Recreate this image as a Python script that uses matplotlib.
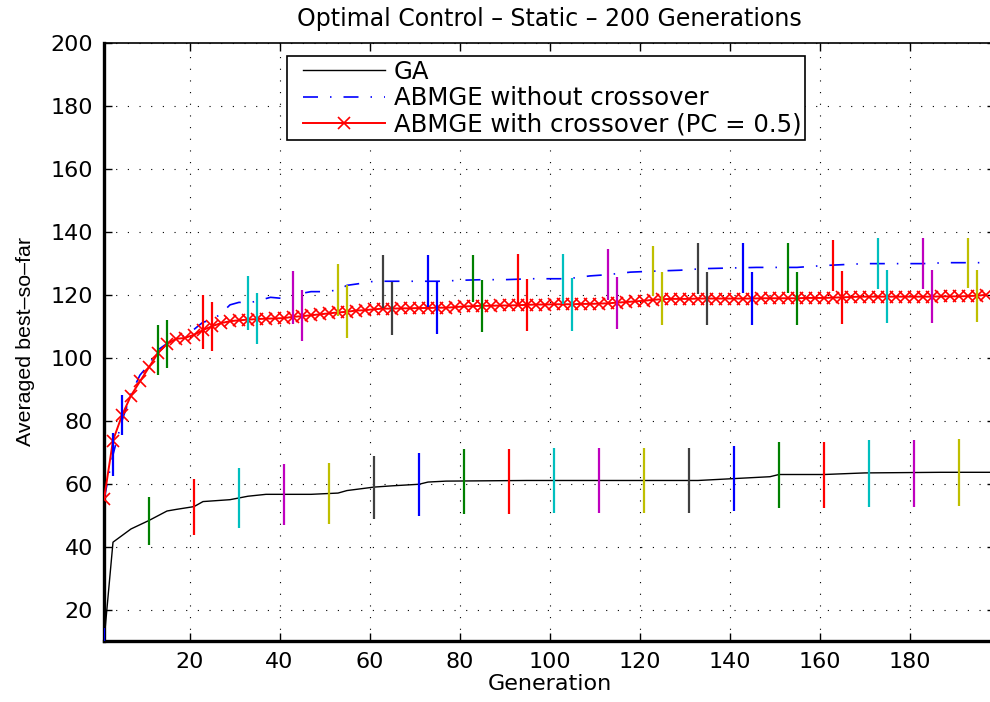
import numpy as np
import matplotlib
matplotlib.use("Agg")
import matplotlib.pyplot as plt
from matplotlib.lines import Line2D
from matplotlib.legend_handler import HandlerLine2D

plt.rcParams['font.family'] = ['DejaVu Sans']

# ---------------- data ----------------
title = "Optimal Control \u2013 Static \u2013 200 Generations"
xlabel = "Generation"
ylabel = "Averaged best\u2013so\u2013far"
labels = ["GA", "ABMGE without crossover", "ABMGE with crossover (PC = 0.5)"]

x_ticks = [20, 40, 60, 80, 100, 120, 140, 160, 180]
y_ticks = [20, 40, 60, 80, 100, 120, 140, 160, 180, 200]

# GA mean curve (breakpoints)
ga_gen = [1, 3, 7, 11, 15, 17, 21, 23, 29, 33, 37, 47, 53, 55, 61, 65, 71, 73,
          77, 95, 133, 141, 149, 151, 161, 170, 187, 199]
ga_val = [10, 41.4, 45.6, 48.3, 51.3, 51.8, 52.7, 54.3, 54.9, 56.0, 56.6, 56.6,
          57.0, 57.8, 58.9, 59.3, 59.8, 60.5, 60.8, 61.0, 61.0, 61.6, 62.2, 62.9,
          62.9, 63.4, 63.6, 63.6]

# ABMGE without crossover mean curve (breakpoints)
nox_gen = [1, 3, 5, 7, 9, 11, 13, 15, 17, 19, 21, 23, 25, 27, 29, 31, 33, 35, 38,
           41, 44, 47, 50, 53, 55, 58, 61, 70, 76, 80, 85, 90, 96, 104, 109, 113,
           118, 123, 129, 134, 146, 155, 161, 170, 183, 188, 199]
nox_val = [55, 69.2, 80.0, 88.5, 94.5, 97.8, 102.5, 104.5, 106.0, 107.2, 109.0,
           111.3, 112.0, 114.0, 116.8, 117.6, 117.4, 118.0, 119.2, 118.8, 120.2,
           121.0, 121.0, 121.5, 123.0, 123.6, 124.3, 124.3, 124.3, 124.6, 124.8,
           124.8, 125.1, 125.1, 126.0, 126.4, 127.2, 127.5, 127.8, 128.3, 128.7,
           128.7, 129.3, 129.9, 129.9, 130.2, 130.2]

# ABMGE with crossover mean curve (odd generations 1..197)
cx_gen = list(range(1, 198, 2))
cx_val = [55.0, 73.7, 81.7, 88.0, 92.5, 97.0, 101.5, 104.4, 106.0, 106.3,
          107.3, 108.8, 110.0, 111.0, 111.6, 111.9, 112.1, 112.3, 112.4, 112.5,
          112.6, 113.0, 113.2, 113.5, 113.8, 114.1, 114.4, 114.6, 115.0, 115.1,
          115.4, 115.6, 115.6, 115.7, 115.7, 115.8, 115.8, 115.9, 115.9, 116.1,
          116.3, 116.4, 116.5, 116.5, 116.6, 116.6, 116.7, 116.8, 116.9, 116.9,
          117.0, 117.0, 117.0, 117.1, 117.1, 117.2, 117.3, 117.5, 117.7, 117.9,
          118.1, 118.4, 118.6, 118.7, 118.7, 118.7, 118.8, 118.8, 118.8, 118.8,
          118.8, 118.8, 118.8, 118.9, 118.9, 118.9, 118.9, 118.9, 119.0, 119.0,
          119.0, 119.1, 119.2, 119.3, 119.4, 119.4, 119.4, 119.4, 119.4, 119.4,
          119.4, 119.4, 119.4, 119.5, 119.5, 119.5, 119.6, 119.7, 120.0]

# Error bars (every 10 generations)
ga_err_gen = list(range(1, 192, 10))
ga_err_mean = [10.0, 48.15, 52.6, 55.35, 56.5, 56.85, 58.8, 59.65, 60.7, 60.7,
               60.9, 60.9, 60.9, 60.9, 61.5, 62.8, 62.8, 63.3, 63.3, 63.6]
ga_err_std = [4.0, 7.55, 8.9, 9.55, 9.8, 9.75, 10.1, 10.05, 10.3, 10.3,
              10.3, 10.3, 10.3, 10.3, 10.3, 10.5, 10.5, 10.6, 10.6, 10.6]

nox_err_gen = list(range(3, 194, 10))
nox_err_mean = [69.2, 102.5, 111.3, 117.4, 119.2, 121.5, 124.25, 124.35, 125.25,
                125.15, 125.15, 126.4, 127.45, 128.35, 128.6, 128.6, 129.25,
                129.8, 129.85, 130.2]
nox_err_std = [6.9, 8.05, 8.55, 8.55, 8.35, 8.25, 8.35, 8.25, 7.55, 7.95, 7.95,
               8.1, 7.95, 7.95, 8.0, 8.0, 8.05, 8.1, 8.05, 8.0]

cx_err_gen = list(range(5, 196, 10))
cx_err_mean = [81.8, 104.35, 109.9, 112.4, 113.4, 114.7, 115.6, 115.9, 116.5,
               116.8, 117.0, 117.4, 118.8, 118.8, 118.8, 118.9, 119.1, 119.4,
               119.4, 119.6]
cx_err_std = [6.5, 7.75, 7.85, 8.05, 8.2, 8.3, 8.5, 8.45, 8.3, 8.35, 8.45, 8.35,
              8.5, 8.5, 8.5, 8.4, 8.4, 8.4, 8.4, 8.4]

# MATLAB classic colour order for the error bars
bar_colors = [(0, 0, 1), (0, 0.5, 0), (1, 0, 0), (0, 0.75, 0.75),
              (0.75, 0, 0.75), (0.75, 0.75, 0), (0.25, 0.25, 0.25)]

# ---------------- figure ----------------
fig = plt.figure(figsize=(9.9, 7.02), dpi=100)
ax = fig.add_axes([104 / 990, 61 / 702, 891 / 990, 598 / 702])

ax.plot(ga_gen, ga_val, color='black', lw=1.0, label=labels[0], zorder=3)
ax.plot(nox_gen, nox_val, color=(0, 0, 1), lw=1.2, dashes=(9, 7.2, 0.9, 7.2),
        label=labels[1], zorder=3)
ax.plot(cx_gen, cx_val, color=(1, 0, 0), lw=1.4, marker='x', ms=8, mew=1.2,
        label=labels[2], zorder=4)

for gens, means, stds in [(ga_err_gen, ga_err_mean, ga_err_std),
                          (nox_err_gen, nox_err_mean, nox_err_std),
                          (cx_err_gen, cx_err_mean, cx_err_std)]:
    for i, (g, m, s) in enumerate(zip(gens, means, stds)):
        ax.errorbar([g], [m], yerr=[s], fmt='none',
                    ecolor=bar_colors[i % len(bar_colors)], elinewidth=1.6,
                    capsize=0, zorder=5)

ax.set_xlim(1, 199)
ax.set_ylim(10, 200)
ax.set_xticks(x_ticks)
ax.set_yticks(y_ticks)
ax.tick_params(direction='in', length=6, width=1, top=True, right=True,
               labelsize=16, pad=8, colors='black')
ax.grid(True, color='black', linestyle=(0, (1, 9.5)), linewidth=0.8)
for side in ['left', 'bottom']:
    ax.spines[side].set_linewidth(2.4)
for side in ['top', 'right']:
    ax.spines[side].set_linewidth(1.2)

ax.set_title(title, fontsize=17, pad=12)
ax.set_xlabel(xlabel, fontsize=16, labelpad=1)
ax.set_ylabel(ylabel, fontsize=15.4, labelpad=11,
              family=['Liberation Sans', 'DejaVu Sans'])

fs_leg = 17.6
leg = ax.legend(loc='upper left', bbox_to_anchor=(287 / 990, 1 - 56 / 702),
                bbox_transform=fig.transFigure, fontsize=fs_leg, numpoints=1,
                handlelength=3.85, handletextpad=0.38, labelspacing=0.1,
                borderpad=0.15, borderaxespad=0, fancybox=False, framealpha=1,
                handler_map={Line2D: HandlerLine2D(numpoints=1, xpad=0.51)})
leg.get_frame().set_edgecolor('black')
leg.get_frame().set_linewidth(1.2)

fig.savefig('out.png', dpi=100)
